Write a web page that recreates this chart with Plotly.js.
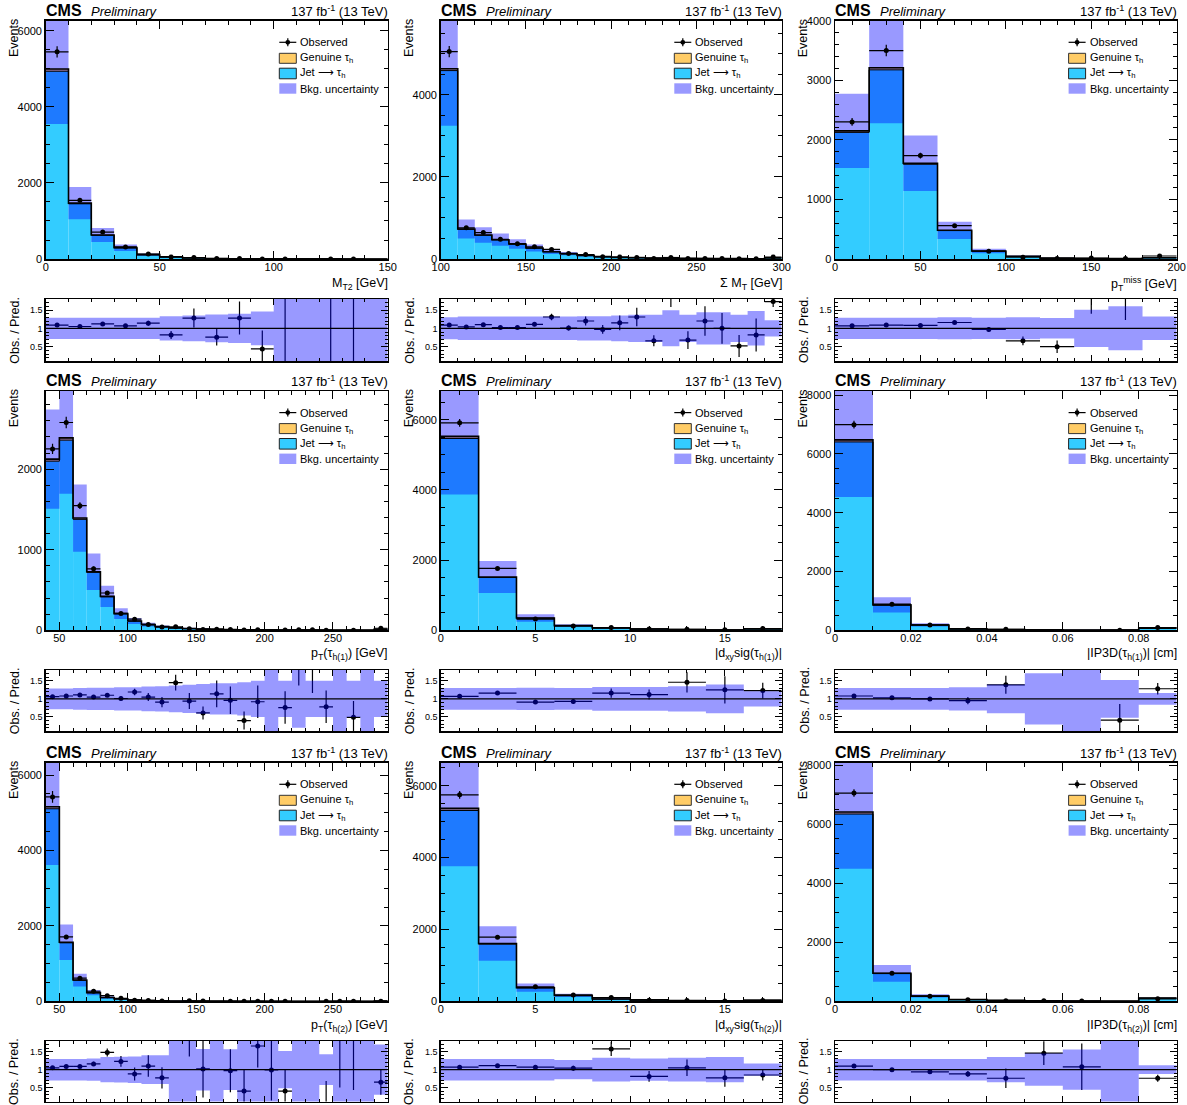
<!DOCTYPE html>
<html><head><meta charset="utf-8">
<script src="https://cdn.plot.ly/plotly-3.0.1.min.js"></script>
<style>body{margin:0;background:#fff}#chart{width:1187px;height:1105px}</style>
</head><body><div id="chart"></div>
<script>
// ---------------- DATA ----------------
// bin edges
const mt2Edges   = [0,10,20,30,40,50,60,70,80,90,100,110,120,130,140,150];
const sumMtEdges = [100,110,120,130,140,150,160,170,180,190,200,210,220,230,240,250,260,270,280,290,300];
const metEdges   = [0,20,40,60,80,100,120,140,160,180,200];
const ptEdges    = [40,50,60,70,80,90,100,110,120,130,140,150,160,170,180,190,200,210,220,230,240,250,260,270,280,290];
const dxyEdges   = [0,2,4,6,8,10,12,14,16,18];
const ipEdges    = [0,0.01,0.02,0.03,0.04,0.05,0.06,0.07,0.08,0.09];

// M_T2
const mt2Jet      = [4940,1452,624,294,112,60,29.5,14.7,7.8,4.9,3,2,2,1,1];
const mt2Gen      = [60,18,8,4,2,1,0.5,0.3,0.2,0.1,0,0,0,0,0];
const mt2Unc      = [0.29,0.29,0.29,0.29,0.29,0.33,0.35,0.38,0.40,0.46,1,1,1,1,1];
const mt2Ratio    = [1.09,1.05,1.12,1.07,1.14,0.82,1.28,0.76,1.28,0.44,0,null,0,0,null];
const mt2RatioErr = [0.03,0.03,0.04,0.05,0.07,0.11,0.26,0.23,0.45,0.5,3,0,3,3,0];

// Sum M_T
const sumMtJet      = [4586,722,578,465,361,265,176,129,88,56.5,39.6,29.7,21.8,17.8,14.9,11.9,9.9,7.9,6.9,27.7];
const sumMtGen      = [45,8,6,5,4,3,2,1,1,0.5,0.4,0.3,0.2,0.2,0.1,0.1,0.1,0.1,0.1,0.3];
const sumMtUnc      = [0.30,0.32,0.32,0.32,0.32,0.32,0.32,0.32,0.33,0.33,0.35,0.37,0.37,0.49,0.37,0.44,0.44,0.37,0.47,0.22];
const sumMtRatio    = [1.09,1.04,1.10,1.02,1.02,1.11,1.31,1.01,1.20,0.97,1.15,1.31,0.66,2.0,0.68,1.20,1.0,0.52,0.82,1.73];
const sumMtRatioErr = [0.03,0.03,0.04,0.04,0.04,0.05,0.09,0.07,0.12,0.12,0.2,0.25,0.15,0.42,0.24,0.4,0.42,0.3,0.45,0.15];

// p_T^miss
const metJet      = [2125,3175,1590,477,132.5,44.5,14.8,7.9,4.9,19.8];
const metGen      = [25,35,18,5,1.5,0.5,0.2,0.1,0.1,0.2];
const metUnc      = [0.29,0.29,0.29,0.30,0.29,0.30,0.28,0.51,0.60,0.32];
const metRatio    = [1.07,1.09,1.08,1.16,0.97,0.66,0.50,2.0,2.0,2.5];
const metRatioErr = [0.03,0.03,0.03,0.04,0.07,0.12,0.17,0.6,0.77,0.3];

// p_T(tau_h(1))
const pt1Jet      = [2099,2360,1377,719,416,205,115,69.3,44.5,29.7,21.8,16.8,11.9,8.9,6.9,5.9,5,4,3.5,3,2.5,2,2,2,11.9];
const pt1Gen      = [25,28,16,8,5,2,1,0.7,0.5,0.3,0.2,0.2,0.1,0.1,0.1,0.1,0,0,0,0,0,0,0,0,0.1];
const pt1Unc      = [0.29,0.29,0.30,0.31,0.31,0.32,0.32,0.34,0.35,0.37,0.39,0.41,0.43,0.43,0.46,0.5,1,0.5,0.8,0.5,0.5,1,0.5,1,0.5];
const pt1Ratio    = [1.06,1.08,1.11,1.05,1.10,1.01,1.19,1.05,0.91,1.45,0.94,0.61,1.14,0.96,0.40,0.92,null,0.76,2.0,2.0,0.78,null,0.49,null,2.1];
const pt1RatioErr = [0.03,0.03,0.03,0.04,0.05,0.06,0.09,0.11,0.14,0.22,0.22,0.18,0.37,0.38,0.25,0.45,0,0.45,0.63,0.84,0.45,0,0.45,0,0.2];

// |dxy sig(tau_h(1))|
const dxy1Jet      = [5467,1504,347,131.5,65.3,34.6,19.8,9.9,39.6];
const dxy1Gen      = [60,15,4,1.5,0.7,0.4,0.2,0.1,0.4];
const dxy1Unc      = [0.30,0.30,0.31,0.30,0.33,0.33,0.35,0.40,0.21];
const dxy1Ratio    = [1.07,1.16,0.91,0.93,1.16,1.12,1.46,1.25,1.23];
const dxy1RatioErr = [0.02,0.03,0.05,0.07,0.13,0.14,0.28,0.38,0.22];

// |IP3D(tau_h(1))|
const ip1Jet      = [6407,854,180,49.4,24.7,14.8,9.9,9.9,74.2];
const ip1Gen      = [70,10,2,0.6,0.3,0.2,0.1,0.1,0.8];
const ip1Unc      = [0.30,0.30,0.30,0.32,0.40,0.71,1,0.52,0.16];
const ip1Ratio    = [1.08,1.03,1.00,0.95,1.39,null,null,0.41,1.28];
const ip1RatioErr = [0.02,0.03,0.05,0.1,0.25,0,0,0.45,0.16];

// p_T(tau_h(2))
const pt2Jet      = [5108,1551,558,227,98.5,63.2,34.6,19.8,11.9,7.9,6,5,4,3,3,2.5,2,2,1.5,1.5,1,1,1,1,5];
const pt2Gen      = [55,17,6,3,1.5,0.8,0.4,0.2,0.1,0.1,0,0,0,0,0,0,0,0,0,0,0,0,0,0,0];
const pt2Unc      = [0.30,0.30,0.30,0.31,0.35,0.36,0.37,0.40,0.40,1,1,0.58,1,0.57,1,1,1,0.52,1,1,0.43,1,1,1,0.7];
const pt2Ratio    = [1.05,1.09,1.09,1.16,1.48,1.23,0.88,1.10,0.77,null,2.0,1.02,null,0.97,0.40,1.66,0.99,0.40,null,null,0,2.5,2.5,null,0.65];
const pt2RatioErr = [0.03,0.03,0.04,0.06,0.11,0.15,0.18,0.3,0.3,0,0.63,0.8,0,0.6,0.6,0.6,0.85,0.6,0,0,0.68,2.0,2.07,0,0.35];

// |dxy sig(tau_h(2))|
const dxy2Jet      = [5310,1591,375,164,64.3,39.6,19.8,14.8,29.7];
const dxy2Gen      = [60,17,4,2,0.7,0.4,0.2,0.2,0.3];
const dxy2Unc      = [0.30,0.30,0.30,0.27,0.33,0.31,0.33,0.35,0.17];
const dxy2Ratio    = [1.07,1.11,1.07,1.04,1.58,0.81,1.05,0.77,0.85];
const dxy2RatioErr = [0.02,0.03,0.05,0.07,0.2,0.15,0.23,0.25,0.15];

// |IP3D(tau_h(2))|
const ip2Jet      = [6341,938,179,59.4,29.7,14.8,9.9,4.9,109];
const ip2Gen      = [70,10,2,0.6,0.3,0.2,0.1,0.1,1];
const ip2Unc      = [0.30,0.30,0.30,0.30,0.35,0.45,0.56,1,0.12];
const ip2Ratio    = [1.10,1.00,0.94,0.88,0.76,1.46,1.08,null,0.76];
const ip2RatioErr = [0.02,0.03,0.05,0.08,0.27,0.33,0.65,0,0.1];

const xTitles = [
  'M<sub>T2</sub> [GeV]',
  'Σ M<sub>T</sub> [GeV]',
  'p<sub>T</sub><sup>miss</sup> [GeV]',
  'p<sub>T</sub>(τ<sub>h(1)</sub>) [GeV]',
  '|d<sub>xy</sub>sig(τ<sub>h(1)</sub>)|',
  '|IP3D(τ<sub>h(1)</sub>)| [cm]',
  'p<sub>T</sub>(τ<sub>h(2)</sub>) [GeV]',
  '|d<sub>xy</sub>sig(τ<sub>h(2)</sub>)|',
  '|IP3D(τ<sub>h(2)</sub>)| [cm]'
];
const legendLabels = ['Observed','Genuine τ<sub>h</sub>','Jet ⟶ τ<sub>h</sub>','Bkg. uncertainty'];
const yMaxes = [6270,5800,4000,2970,6820,8140,6330,6640,8080];

// ---------------- STYLE / LAYOUT ----------------
const FONT = '"Liberation Sans", Arial, Helvetica, sans-serif';
const W = 1187, H = 1105;
const C_JET = '#33ccff', C_GEN = '#ffcc66', C_BAND = 'rgba(0,0,255,0.4)';
const colPx = [[45.7,387.7],[440.7,781.7],[835,1176.7]];
const mainPx = [[20.7,259],[391,630.3],[762.7,1001.3]];
const ratioPx = [[299,361],[670,731],[1041,1101.5]];
const rowShift = [0,370.3,742];
const ratioRange = [0.11,1.8];

const panels = [
  {edges:mt2Edges,  jet:mt2Jet,  gen:mt2Gen,  unc:mt2Unc,  ratio:mt2Ratio,  rerr:mt2RatioErr,  yD:2000,yM:500, xD:50,  xM:10},
  {edges:sumMtEdges,jet:sumMtJet,gen:sumMtGen,unc:sumMtUnc,ratio:sumMtRatio,rerr:sumMtRatioErr,yD:2000,yM:500, xD:50,  xM:10},
  {edges:metEdges,  jet:metJet,  gen:metGen,  unc:metUnc,  ratio:metRatio,  rerr:metRatioErr,  yD:1000,yM:200, xD:50,  xM:10},
  {edges:ptEdges,   jet:pt1Jet,  gen:pt1Gen,  unc:pt1Unc,  ratio:pt1Ratio,  rerr:pt1RatioErr,  yD:1000,yM:200, xD:50,  xM:10},
  {edges:dxyEdges,  jet:dxy1Jet, gen:dxy1Gen, unc:dxy1Unc, ratio:dxy1Ratio, rerr:dxy1RatioErr, yD:2000,yM:500, xD:5,   xM:1},
  {edges:ipEdges,   jet:ip1Jet,  gen:ip1Gen,  unc:ip1Unc,  ratio:ip1Ratio,  rerr:ip1RatioErr,  yD:2000,yM:500, xD:0.02,xM:0.01},
  {edges:ptEdges,   jet:pt2Jet,  gen:pt2Gen,  unc:pt2Unc,  ratio:pt2Ratio,  rerr:pt2RatioErr,  yD:2000,yM:500, xD:50,  xM:10},
  {edges:dxyEdges,  jet:dxy2Jet, gen:dxy2Gen, unc:dxy2Unc, ratio:dxy2Ratio, rerr:dxy2RatioErr, yD:2000,yM:500, xD:5,   xM:1},
  {edges:ipEdges,   jet:ip2Jet,  gen:ip2Gen,  unc:ip2Unc,  ratio:ip2Ratio,  rerr:ip2RatioErr,  yD:2000,yM:500, xD:0.02,xM:0.01}
];

const ax = n => (n === 1 ? '' : String(n));
const px = p => p / W;
const py = p => 1 - p / H;

const traces = [], shapes = [], annotations = [];
const layout = {
  width: W, height: H, margin: {l:0,r:0,t:0,b:0},
  paper_bgcolor: '#ffffff', plot_bgcolor: 'rgba(0,0,0,0)',
  showlegend: false, barmode: 'overlay',
  font: {family: FONT, color: '#000'}
};
const common = {showline:true, linecolor:'#000', linewidth:1.5, mirror:'allticks', ticks:'inside',
  tickcolor:'#000', tickwidth:1, showgrid:false, zeroline:false, fixedrange:true};

function rectPath(edges, lo, hi) {
  const xs = [], ys = [];
  for (let k = 0; k < lo.length; k++) {
    const a = edges[k], b = edges[k+1];
    xs.push(a, a, b, b, a, null);
    ys.push(lo[k], hi[k], hi[k], lo[k], lo[k], null);
  }
  return {xs, ys};
}
function stepY(v) { return v.concat([v[v.length-1]]); }

panels.forEach((P, i) => {
  const col = i % 3, row = Math.floor(i / 3);
  const nm = 2*i + 1, nr = 2*i + 2;
  const xm = 'x'+ax(nm), ym = 'y'+ax(nm), xr = 'x'+ax(nr), yr = 'y'+ax(nr);
  const n = P.jet.length;
  const ctr = [], wid = [], half = [];
  for (let k = 0; k < n; k++) {
    ctr.push((P.edges[k] + P.edges[k+1]) / 2);
    wid.push(P.edges[k+1] - P.edges[k]);
    half.push((P.edges[k+1] - P.edges[k]) / 2);
  }
  const pred = P.jet.map((v, k) => v + P.gen[k]);
  const obs = P.ratio.map((r, k) => (r === null ? null : r * pred[k]));
  const obsErr = P.rerr.map((e, k) => e * pred[k]);
  const bandLo = pred.map((v, k) => Math.max(0, v * (1 - P.unc[k])));
  const bandHi = pred.map((v, k) => v * (1 + P.unc[k]));
  const rLo = P.unc.map(u => 1 - u), rHi = P.unc.map(u => 1 + u);

  // main stack
  traces.push({type:'bar', x:ctr, y:P.jet, width:wid, xaxis:xm, yaxis:ym,
    marker:{color:C_JET, line:{width:0}}, hoverinfo:'skip'});
  traces.push({type:'bar', x:ctr, y:P.gen, base:P.jet, width:wid, xaxis:xm, yaxis:ym,
    marker:{color:C_GEN, line:{width:0}}, hoverinfo:'skip'});
  const bp = rectPath(P.edges, bandLo, bandHi);
  traces.push({type:'scatter', mode:'lines', x:bp.xs, y:bp.ys, fill:'toself', fillcolor:C_BAND,
    line:{width:0, color:'rgba(0,0,0,0)'}, xaxis:xm, yaxis:ym, hoverinfo:'skip'});
  traces.push({type:'scatter', mode:'lines', x:P.edges, y:stepY(P.jet), line:{shape:'hv', color:'#000', width:1},
    xaxis:xm, yaxis:ym, hoverinfo:'skip'});
  traces.push({type:'scatter', mode:'lines', x:P.edges, y:stepY(pred), line:{shape:'hv', color:'#000', width:1.6},
    xaxis:xm, yaxis:ym, hoverinfo:'skip'});
  traces.push({type:'scatter', mode:'markers', x:ctr, y:obs, xaxis:xm, yaxis:ym,
    marker:{color:'#000', size:5},
    error_y:{type:'data', array:obsErr, color:'#000', thickness:1.2, width:0},
    error_x:{type:'data', array:half, color:'#000', thickness:1.2, width:0}, hoverinfo:'skip'});

  // ratio
  traces.push({type:'scatter', mode:'markers', x:ctr, y:P.ratio, xaxis:xr, yaxis:yr,
    marker:{color:'#000', size:5},
    error_y:{type:'data', array:P.rerr, color:'#000', thickness:1.2, width:0},
    error_x:{type:'data', array:half, color:'#000', thickness:1.2, width:0}, hoverinfo:'skip'});
  const rp = rectPath(P.edges, rLo, rHi);
  traces.push({type:'scatter', mode:'lines', x:rp.xs, y:rp.ys, fill:'toself', fillcolor:C_BAND,
    line:{width:0, color:'rgba(0,0,0,0)'}, xaxis:xr, yaxis:yr, hoverinfo:'skip'});
  shapes.push({type:'line', xref:xr, yref:yr, x0:P.edges[0], x1:P.edges[n], y0:1, y1:1,
    line:{color:'#000', width:1.2}, layer:'above'});

  // axes
  const c = colPx[col], m = mainPx[row], r = ratioPx[row];
  const xr0 = [P.edges[0], P.edges[n]];
  layout['xaxis'+ax(nm)] = Object.assign({}, common, {domain:[px(c[0]), px(c[1])], range:xr0, anchor:ym,
    ticklen:8, tick0:0, dtick:P.xD, minor:{tick0:0, dtick:P.xM, ticklen:4, ticks:'inside', tickcolor:'#000', tickwidth:1},
    ticklabelstandoff:-3, tickfont:{size:11, family:FONT, color:'#000'}});
  layout['yaxis'+ax(nm)] = Object.assign({}, common, {domain:[py(m[1]), py(m[0])], range:[0, yMaxes[i]], anchor:xm,
    ticklen:8, tick0:0, dtick:P.yD, minor:{tick0:0, dtick:P.yM, ticklen:4, ticks:'inside', tickcolor:'#000', tickwidth:1},
    tickfont:{size:11, family:FONT, color:'#000'}});
  layout['xaxis'+ax(nr)] = Object.assign({}, common, {domain:[px(c[0]), px(c[1])], range:xr0, anchor:yr,
    ticklen:6, tick0:0, dtick:P.xD, minor:{tick0:0, dtick:P.xM, ticklen:3, ticks:'inside', tickcolor:'#000', tickwidth:1},
    showticklabels:false});
  layout['yaxis'+ax(nr)] = Object.assign({}, common, {domain:[py(r[1]), py(r[0])], range:ratioRange, anchor:xr,
    ticklen:7, tick0:0, dtick:0.5, minor:{tick0:0, dtick:0.1, ticklen:3, ticks:'inside', tickcolor:'#000', tickwidth:1},
    tickfont:{size:9, family:FONT, color:'#000'}});

  // texts
  const fl = c[0], fr = c[1], rs = rowShift[row];
  const A = (o) => annotations.push(Object.assign({xref:'paper', yref:'paper', showarrow:false}, o));
  A({x:px(fl-2), y:py(10.5+rs), xanchor:'left', yanchor:'middle', text:'<b>CMS</b>', font:{size:16, family:FONT, color:'#000'}});
  A({x:px(fl+43), y:py(11.5+rs), xanchor:'left', yanchor:'middle', text:'<i>Preliminary</i>', font:{size:13, family:FONT, color:'#000'}});
  A({x:px(fr+2), y:py(11+rs), xanchor:'right', yanchor:'middle', text:'137 fb<sup>-1</sup> (13 TeV)', font:{size:13, family:FONT, color:'#000'}});
  A({x:px(fr+2), y:py(284+rs), xanchor:'right', yanchor:'middle', text:xTitles[i], font:{size:12.5, family:FONT, color:'#000'}});
  A({x:px(fl-31.7), y:py(17+rs), xanchor:'center', yanchor:'top', textangle:-90, text:'Events', font:{size:12.5, family:FONT, color:'#000'}});
  A({x:px(fl-31), y:py((r[0]+r[1])/2), xanchor:'center', yanchor:'middle', textangle:-90, text:'Obs. / Pred.', font:{size:12.5, family:FONT, color:'#000'}});

  // legend
  const lx0 = fl + 233.6, lx1 = fl + 250.6, lxc = (lx0 + lx1) / 2, tx = fl + 252.5;
  const ly = [42.3, 58.3, 73.5, 88.5].map(v => v + rs);
  shapes.push({type:'line', xref:'paper', yref:'paper', x0:px(lx0), x1:px(lx1), y0:py(ly[0]), y1:py(ly[0]), line:{color:'#000', width:1.2}});
  shapes.push({type:'line', xref:'paper', yref:'paper', x0:px(lxc), x1:px(lxc), y0:py(ly[0]-4), y1:py(ly[0]+4), line:{color:'#000', width:1.2}});
  shapes.push({type:'circle', xref:'paper', yref:'paper', x0:px(lxc-2.4), x1:px(lxc+2.4), y0:py(ly[0]-2.4), y1:py(ly[0]+2.4), fillcolor:'#000', line:{width:0}});
  shapes.push({type:'rect', xref:'paper', yref:'paper', x0:px(lx0), x1:px(lx1), y0:py(ly[1]-5), y1:py(ly[1]+5), fillcolor:C_GEN, line:{color:'#333', width:1}});
  shapes.push({type:'rect', xref:'paper', yref:'paper', x0:px(lx0), x1:px(lx1), y0:py(ly[2]-5.3), y1:py(ly[2]+5.3), fillcolor:C_JET, line:{color:'#222', width:1}});
  shapes.push({type:'rect', xref:'paper', yref:'paper', x0:px(lx0), x1:px(lx1), y0:py(ly[3]-5.2), y1:py(ly[3]+5.2), fillcolor:'#9999ff', line:{width:0}});
  legendLabels.forEach((t, k) => {
    A({x:px(tx), y:py(ly[k]), xanchor:'left', yanchor:'middle', text:t, font:{size:11, family:FONT, color:'#000'}});
  });
});

layout.shapes = shapes;
layout.annotations = annotations;
Plotly.newPlot('chart', traces, layout, {displayModeBar:false, staticPlot:true});
</script>
</body></html>
